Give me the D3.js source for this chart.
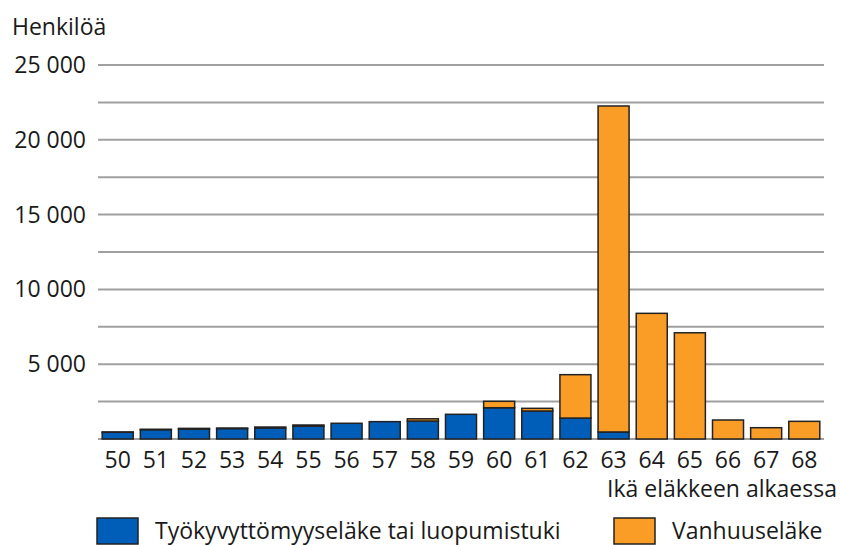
<!DOCTYPE html>
<html>
<head>
<meta charset="utf-8">
<script src="https://cdn.jsdelivr.net/npm/d3@7"></script>
<style>
  body { margin: 0; background: #fff; }
  text { font-family: "Open Sans", sans-serif; fill: #1a1a1a; }
</style>
</head>
<body>
<div id="chart-area"></div>
<script>
// data
var ages = ["50","51","52","53","54","55","56","57","58","59","60","61","62","63","64","65","66","67","68"];
var tyokyvyttomyys = [450, 620, 660, 700, 740, 860, 1050, 1160, 1200, 1650, 2090, 1870, 1400, 470, 0, 0, 0, 0, 0];
var vanhuus = [20, 30, 50, 30, 60, 75, 0, 0, 150, 0, 430, 180, 2900, 21790, 8400, 7100, 1270, 755, 1180];
var seriesNames = ["Työkyvyttömyyseläke tai luopumistuki", "Vanhuuseläke"];
var colors = ["#005EB8", "#F99D27"];
var yTicks = [0, 2500, 5000, 7500, 10000, 12500, 15000, 17500, 20000, 22500, 25000];

var width = 841, height = 545;
var fs = 23;

var svg = d3.select("#chart-area").append("svg")
    .attr("width", width)
    .attr("height", height);

var fi = d3.formatLocale({ thousands: " ", grouping: [3], decimal: ",", currency: ["", "€"] });
var fmt = fi.format(",d");

var x = d3.scaleBand()
    .domain(ages)
    .range([98, 824])
    .paddingInner(0.187)
    .paddingOuter(0.11);

var y = d3.scaleLinear()
    .domain([0, 25000])
    .range([439, 65]);

// gridlines
svg.selectAll(".grid")
    .data(yTicks)
    .enter().append("line")
        .attr("x1", 98)
        .attr("x2", 824)
        .attr("y1", (d) => { return y(d); })
        .attr("y2", (d) => { return y(d); })
        .attr("stroke", "#a0a0a0")
        .attr("stroke-width", 2);

// y labels only on 5000s
svg.selectAll(".ylab")
    .data(yTicks.filter((d) => { return d > 0 && d % 5000 === 0; }))
    .enter().append("text")
        .attr("x", 86)
        .attr("y", (d) => { return y(d); })
        .attr("dy", "0.35em")
        .attr("text-anchor", "end")
        .attr("font-size", fs)
        .text((d) => { return fmt(d); });

svg.append("text")
    .attr("x", 12)
    .attr("y", 35)
    .attr("font-size", fs)
    .text("Henkilöä");

// stacked bars
var rows = ages.map((a, i) => {
    return { age: a, tk: tyokyvyttomyys[i], vh: vanhuus[i] };
});
var stack = d3.stack().keys(["tk", "vh"]);
var layers = stack(rows);

svg.selectAll(".layer")
    .data(layers)
    .enter().append("g")
        .attr("fill", (d, i) => { return colors[i]; })
    .selectAll("rect")
    .data((d) => { return d.filter((p) => { return p[1] - p[0] > 0; }); })
    .enter().append("rect")
        .attr("x", (d) => { return x(d.data.age); })
        .attr("width", x.bandwidth())
        .attr("y", (d) => { return y(d[1]); })
        .attr("height", (d) => { return y(d[0]) - y(d[1]); })
        .attr("stroke", "#222")
        .attr("stroke-width", 1.5);

// x labels
svg.selectAll(".xlab")
    .data(ages)
    .enter().append("text")
        .attr("x", (d) => { return x(d) + x.bandwidth() / 2; })
        .attr("y", 468)
        .attr("text-anchor", "middle")
        .attr("font-size", fs)
        .text((d) => { return d; });

svg.append("text")
    .attr("x", 837)
    .attr("y", 497)
    .attr("text-anchor", "end")
    .attr("font-size", fs)
    .text("Ikä eläkkeen alkaessa");

// legend
var legendX = [97, 614];
var legend = svg.selectAll(".legend")
    .data(seriesNames)
    .enter().append("g")
        .attr("transform", (d, i) => { return "translate(" + legendX[i] + ",518)"; });

legend.append("rect")
    .attr("width", 41)
    .attr("height", 26)
    .attr("fill", (d, i) => { return colors[i]; })
    .attr("stroke", "#222")
    .attr("stroke-width", 1.5);

legend.append("text")
    .attr("x", 58)
    .attr("y", 13)
    .attr("dy", "0.35em")
    .attr("font-size", fs)
    .text((d) => { return d; });
</script>
</body>
</html>
